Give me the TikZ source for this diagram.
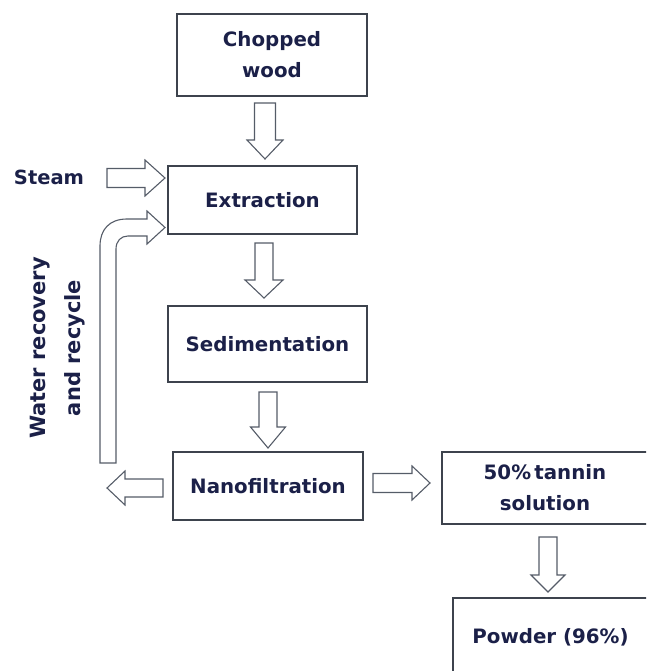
\documentclass[tikz,border=0pt]{standalone}
\usepackage{fontspec}
\setmainfont{DejaVu Sans}
\usetikzlibrary{calc}
\definecolor{txt}{HTML}{1B2048}
\definecolor{boxline}{HTML}{3D434D}
\definecolor{arrline}{HTML}{555C68}
\tikzset{
  procbox/.style={draw=boxline, line width=1.3pt, text=txt,
    font=\fontsize{19.8}{31}\selectfont\bfseries, align=center, inner sep=0pt},
  blockarrow/.style={draw=arrline, line width=1.1pt, fill=white, line join=miter},
  lbl/.style={text=txt, font=\fontsize{19.5}{35}\selectfont\bfseries, align=center, inner sep=0pt}
}
% vertical block arrow: x, ytop, ybase, ytip, shaft half width, head half width
\newcommand{\vblk}[6]{%
  \draw[blockarrow] (#1-#5,#2) -- (#1+#5,#2) -- (#1+#5,#3) -- (#1+#6,#3) -- (#1,#4)
    -- (#1-#6,#3) -- (#1-#5,#3) -- cycle;}
% horizontal block arrow: y, xstart, xbase, xtip, shaft half width, head half width
\newcommand{\hblk}[6]{%
  \draw[blockarrow] (#2,#1-#5) -- (#3,#1-#5) -- (#3,#1-#6) -- (#4,#1)
    -- (#3,#1+#6) -- (#3,#1+#5) -- (#2,#1+#5) -- cycle;}
\begin{document}
\begin{tikzpicture}[x=1pt,y=-1pt]
\useasboundingbox (0,0) rectangle (646,671);
\clip (0,0) rectangle (646,671);

% process boxes
\node[procbox, minimum width=190pt, minimum height=82pt] (chop) at (272,55) {Chopped\\wood};
\node[procbox, minimum width=189pt, minimum height=68pt] (extr) at (262.5,200) {Extraction};
\node[procbox, minimum width=199pt, minimum height=76pt] (sed) at (267.5,344) {Sedimentation};
\node[procbox, minimum width=190pt, minimum height=68pt] (nano) at (268,486) {Nanofiltration};
\node[procbox, minimum width=206pt, minimum height=72pt] (tan) at (545,488) {50\%\,tannin\\solution};
\node[procbox, minimum width=195pt, minimum height=78pt] (pow) at (550.5,637) {Powder (96\%)};

% side labels
\node[lbl] (steam) at (49,177) {Steam};
\node[lbl, font=\fontsize{21}{35}\selectfont\bfseries, rotate=90] (water) at (58,348) {Water recovery\\and recycle};

% block arrows
\vblk{265}{103}{140}{159}{10.5}{18}   % chop -> extr
\vblk{264}{243}{280}{298}{9}{19}      % extr -> sed
\vblk{268}{392}{427}{448}{9}{17.5}    % sed -> nano
\vblk{548}{537}{575}{592}{9}{17}      % tan -> pow
\hblk{178}{107}{145}{165}{9.5}{18}    % steam -> extr
\hblk{483}{373}{412}{430}{9.5}{17}    % nano -> tan
\hblk{488}{163}{125}{107}{9}{17}      % nano -> recycle

% water recovery and recycle bent arrow
\draw[blockarrow] (100,463) -- (100,246)
  .. controls (100,230) and (109,219) .. (127,219)
  -- (147,219) -- (147,211) -- (165,227.5) -- (147,244) -- (147,236)
  -- (128,236) .. controls (121,236) and (116,241) .. (116,249)
  -- (116,463) -- cycle;
\end{tikzpicture}
\end{document}
